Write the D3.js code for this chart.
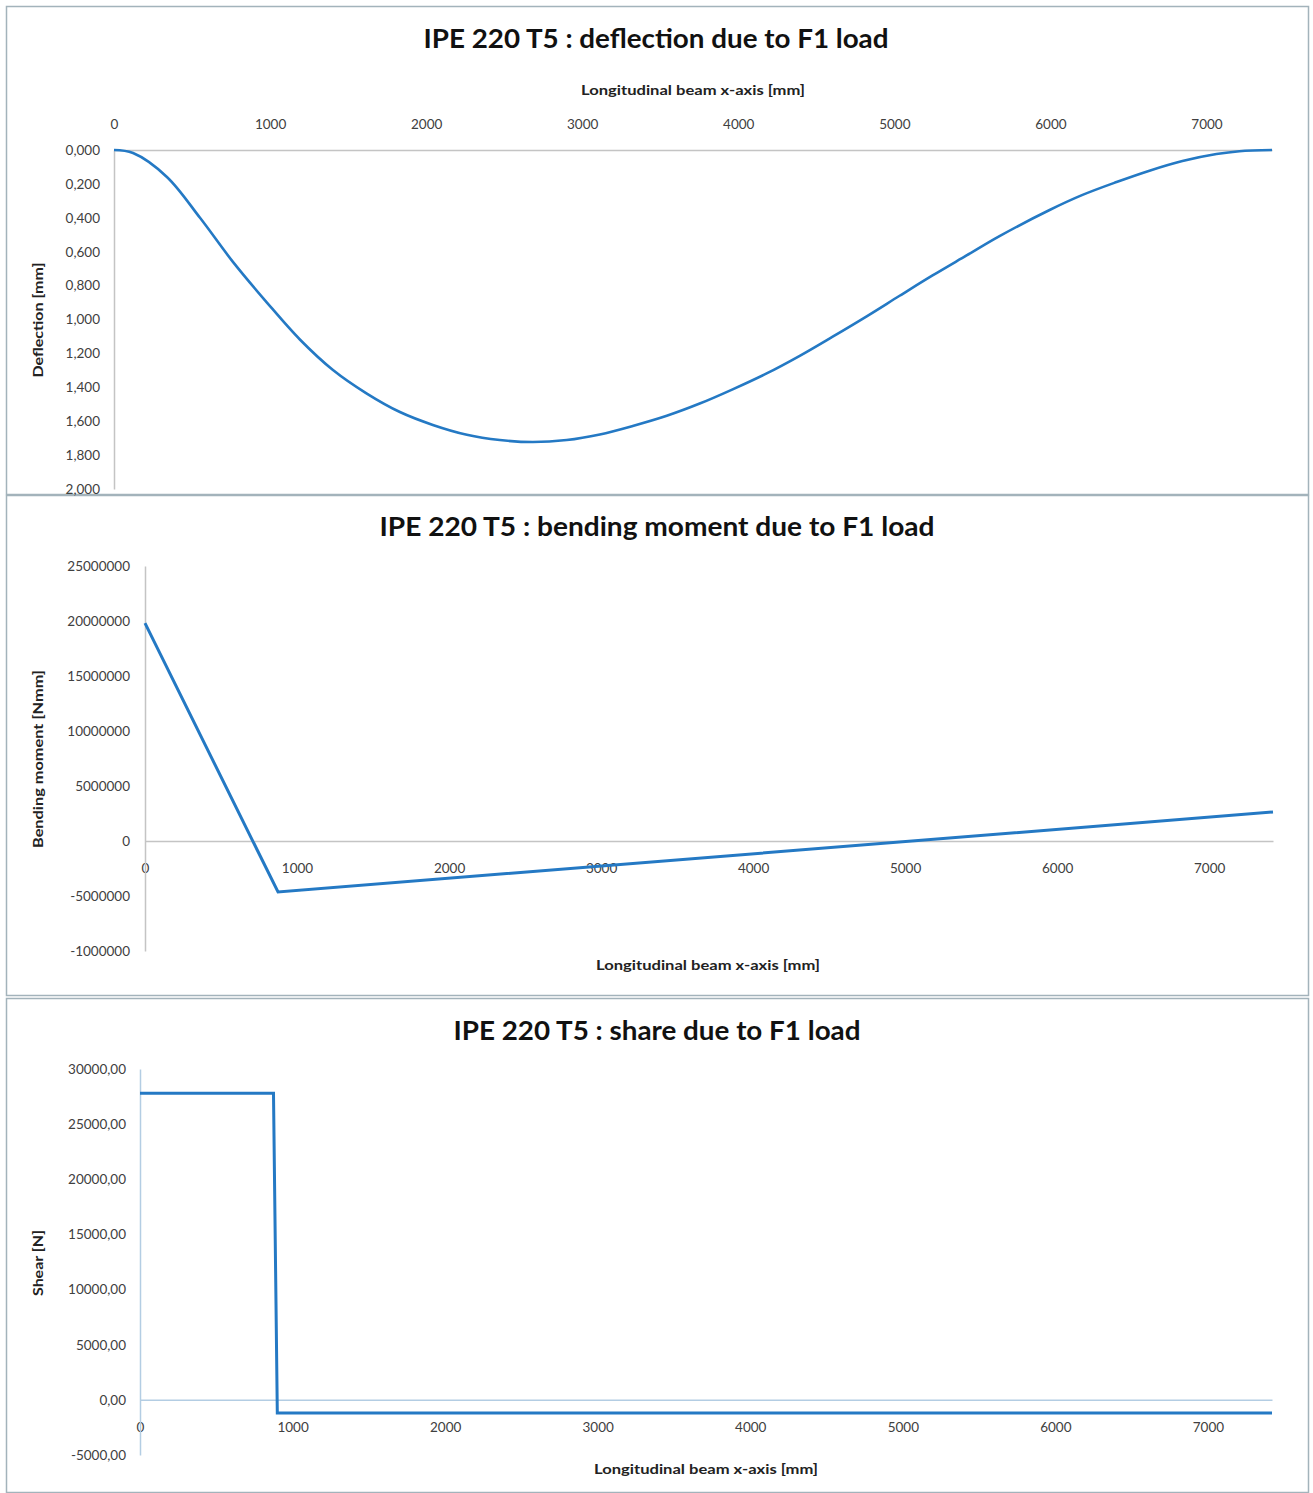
<!DOCTYPE html>
<html>
<head>
<meta charset="utf-8">
<script src="https://cdn.jsdelivr.net/npm/d3@7"></script>
<style>
  html, body { margin: 0; padding: 0; background: #fff; }
  svg { display: block; }
  text { font-family: Lato, "Open Sans", "DejaVu Sans", sans-serif; }
</style>
</head>
<body>
<svg id="chart" width="1313" height="1493"></svg>
<script>
// ---------- DATA ----------
const beamLength = 7420;
const xTicks = [0, 1000, 2000, 3000, 4000, 5000, 6000, 7000];

// Deflection [mm] vs x [mm]
const deflX = [0, 122, 339, 551, 762, 980, 1191, 1403, 1620, 1832, 2043, 2261, 2472, 2683, 2901, 3113, 3324, 3542, 3753, 3964, 4182, 4394, 4605, 4823, 5034, 5245, 5463, 5674, 5995, 6206, 6424, 6635, 6846, 7064, 7211, 7420];
const deflY = [0, 0.018, 0.159, 0.400, 0.660, 0.900, 1.118, 1.298, 1.437, 1.546, 1.622, 1.680, 1.711, 1.723, 1.711, 1.678, 1.628, 1.568, 1.496, 1.412, 1.318, 1.214, 1.101, 0.981, 0.860, 0.740, 0.622, 0.508, 0.354, 0.265, 0.189, 0.122, 0.065, 0.024, 0.007, 0];
const deflTicks = [0, 0.2, 0.4, 0.6, 0.8, 1.0, 1.2, 1.4, 1.6, 1.8, 2.0];
const deflTickLabels = ["0,000", "0,200", "0,400", "0,600", "0,800", "1,000", "1,200", "1,400", "1,600", "1,800", "2,000"];

// Bending moment [Nmm] vs x [mm]
const momX = [0, 875, 7420];
const momY = [19800000, -4640000, 2640000];
const momTicks = [25000000, 20000000, 15000000, 10000000, 5000000, 0, -5000000, -10000000];
const momTickLabels = ["25000000", "20000000", "15000000", "10000000", "5000000", "0", "-5000000", "-1000000"];

// Shear [N] vs x [mm]
const shearX = [0, 875, 900, 7420];
const shearY = [27800, 27800, -1200, -1200];
const shearTicks = [30000, 25000, 20000, 15000, 10000, 5000, 0, -5000];
const shearTickLabels = ["30000,00", "25000,00", "20000,00", "15000,00", "10000,00", "5000,00", "0,00", "-5000,00"];

const titles = ["IPE 220 T5 : deflection due to F1 load", "IPE 220 T5 : bending moment due to F1 load", "IPE 220 T5 : share due to F1 load"];
const xAxisTitle = "Longitudinal  beam x-axis  [mm]";
const yTitles = ["Deflection [mm]", "Bending  moment [Nmm]", "Shear [N]"];

// ---------- DRAWING ----------
const svg = d3.select("#chart");
const lineColor = "#2479c4";
const tickColor = "#404040";

// panels
const panels = [[6, 6, 1302, 488], [6, 495, 1302, 500], [6, 998, 1302, 494]];
panels.forEach(p => {
  svg.append("rect").attr("x", p[0] + 0.5).attr("y", p[1] + 0.5).attr("width", p[2]).attr("height", p[3])
    .attr("fill", "#fff").attr("stroke", "#a3b3bb").attr("stroke-width", 1.5);
});

function title(txt, cx, baseline, len) {
  svg.append("text").attr("x", cx).attr("y", baseline).attr("text-anchor", "middle")
    .attr("font-size", 26).attr("font-weight", "bold").attr("fill", "#111")
    .attr("textLength", len).attr("lengthAdjust", "spacingAndGlyphs").text(txt);
}
function axisTitle(txt, cx, cy, len) {
  svg.append("text").attr("x", cx).attr("y", cy).attr("dy", "0.35em").attr("text-anchor", "middle")
    .attr("font-size", 14).attr("font-weight", "bold").attr("fill", "#222")
    .attr("textLength", len).attr("lengthAdjust", "spacingAndGlyphs").text(txt);
}
function yTitle(txt, cx, cy, len) {
  svg.append("text").attr("transform", `translate(${cx},${cy}) rotate(-90)`).attr("dy", "0.35em")
    .attr("text-anchor", "middle").attr("font-size", 13).attr("font-weight", "bold").attr("fill", "#222")
    .attr("textLength", len).attr("lengthAdjust", "spacingAndGlyphs").text(txt);
}
function styleAxis(g, color) {
  g.select(".domain").attr("stroke", color).attr("stroke-width", 1.5);
  g.selectAll(".tick line").remove();
  g.selectAll(".tick text").attr("fill", tickColor).attr("font-size", 13.5).attr("font-family", "Lato, 'Open Sans', sans-serif");
}

// ===== Chart 1: deflection =====
{
  const x = d3.scaleLinear().domain([0, beamLength]).range([114, 1272]);
  const y = d3.scaleLinear().domain([0, 2]).range([150, 489]);
  title(titles[0], 656, 48, 465);
  axisTitle(xAxisTitle, 693, 90, 224);
  yTitle(yTitles[0], 38, 320, 115);

  const gx = svg.append("g").attr("transform", `translate(0,${y(0)})`)
    .call(d3.axisTop(x).tickValues(xTicks).tickFormat(d3.format("d")).tickSize(0).tickPadding(21).tickSizeOuter(0));
  styleAxis(gx, "#c4c4c4");
  const gy = svg.append("g").attr("transform", `translate(${x(0)},0)`)
    .call(d3.axisLeft(y).tickValues(deflTicks).tickFormat((d, i) => deflTickLabels[i]).tickSize(0).tickPadding(14).tickSizeOuter(0));
  styleAxis(gy, "#c4c4c4");

  const data = deflX.map((d, i) => [d, deflY[i]]);
  svg.append("path").datum(data).attr("fill", "none").attr("stroke", lineColor).attr("stroke-width", 2.6)
    .attr("d", d3.line().x(d => x(d[0])).y(d => y(d[1])).curve(d3.curveCatmullRom.alpha(0.5)));
}

// ===== Chart 2: bending moment =====
{
  const x = d3.scaleLinear().domain([0, beamLength]).range([145, 1273]);
  const y = d3.scaleLinear().domain([-10000000, 25000000]).range([951, 566]);
  title(titles[1], 657, 536, 555);
  axisTitle(xAxisTitle, 708, 965, 224);
  yTitle(yTitles[1], 38, 759, 178);

  const gx = svg.append("g").attr("transform", `translate(0,${y(0)})`)
    .call(d3.axisBottom(x).tickValues(xTicks).tickFormat(d3.format("d")).tickSize(0).tickPadding(21).tickSizeOuter(0));
  styleAxis(gx, "#c4c4c4");
  gx.selectAll(".tick text").attr("dy", "0.35em").attr("y", 27);
  const gy = svg.append("g").attr("transform", `translate(${x(0)},0)`)
    .call(d3.axisLeft(y).tickValues(momTicks).tickFormat((d, i) => momTickLabels[i]).tickSize(0).tickPadding(15).tickSizeOuter(0));
  styleAxis(gy, "#c4c4c4");

  const data = momX.map((d, i) => [d, momY[i]]);
  svg.append("path").datum(data).attr("fill", "none").attr("stroke", lineColor).attr("stroke-width", 3)
    .attr("stroke-linejoin", "miter")
    .attr("d", d3.line().x(d => x(d[0])).y(d => y(d[1])));
}

// ===== Chart 3: shear =====
{
  const x = d3.scaleLinear().domain([0, beamLength]).range([140, 1272]);
  const y = d3.scaleLinear().domain([-5000, 30000]).range([1455, 1069]);
  title(titles[2], 657, 1040, 407);
  axisTitle(xAxisTitle, 706, 1469, 224);
  yTitle(yTitles[2], 38, 1263, 66);

  const gx = svg.append("g").attr("transform", `translate(0,${y(0)})`)
    .call(d3.axisBottom(x).tickValues(xTicks).tickFormat(d3.format("d")).tickSize(0).tickPadding(21).tickSizeOuter(0));
  styleAxis(gx, "#b3cde3");
  gx.selectAll(".tick text").attr("dy", "0.35em").attr("y", 27);
  const gy = svg.append("g").attr("transform", `translate(${x(0)},0)`)
    .call(d3.axisLeft(y).tickValues(shearTicks).tickFormat((d, i) => shearTickLabels[i]).tickSize(0).tickPadding(14).tickSizeOuter(0));
  styleAxis(gy, "#b3cde3");

  const data = shearX.map((d, i) => [d, shearY[i]]);
  svg.append("path").datum(data).attr("fill", "none").attr("stroke", lineColor).attr("stroke-width", 3)
    .attr("stroke-linejoin", "miter")
    .attr("d", d3.line().x(d => x(d[0])).y(d => y(d[1])));
}
</script>
</body>
</html>
